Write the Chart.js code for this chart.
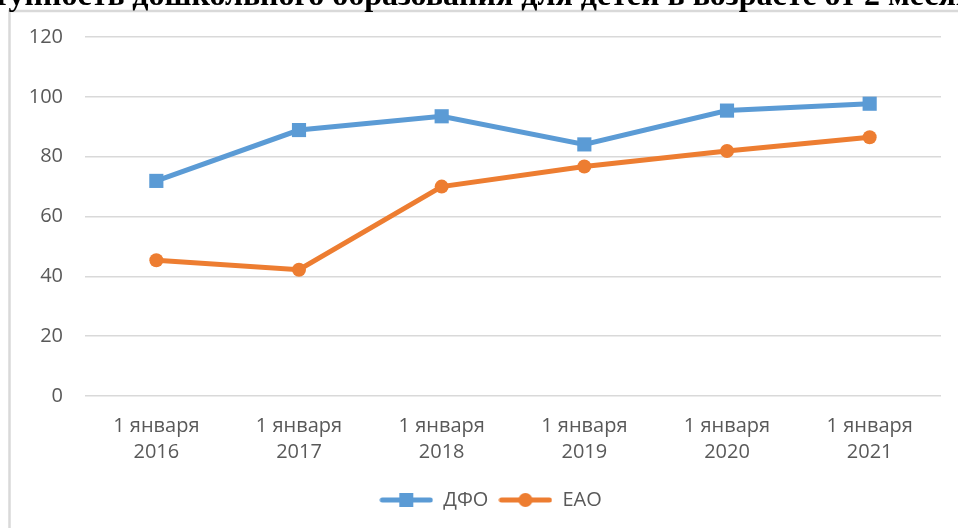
<!DOCTYPE html>
<html lang="ru">
<head>
<meta charset="utf-8">
<script src="https://cdn.jsdelivr.net/npm/chart.js@4.4.1/dist/chart.umd.min.js"></script>
<style>
  html, body { margin: 0; padding: 0; background: #fff; }
  #wrap { position: relative; width: 958px; height: 528px; }
</style>
</head>
<body>
<div id="wrap"><canvas id="lineChart" width="958" height="528"></canvas></div>
<script>
// Данные графика
const titulo = "Доступность дошкольного образования для детей в возрасте от 2 месяцев до 7 лет";
const categorias = [["1 января", "2016"], ["1 января", "2017"], ["1 января", "2018"],
                    ["1 января", "2019"], ["1 января", "2020"], ["1 января", "2021"]];
const serieDFO = [71.9, 88.9, 93.5, 84.1, 95.4, 97.7];
const serieEAO = [45.4, 42.2, 70, 76.7, 81.9, 86.5];
const ticksY = [0, 20, 40, 60, 80, 100, 120];

const azul = "#5b9bd5";
const naranja = "#ed7d31";
const gris = "#595959";

// Icono de leyenda: linea con marcador
function iconoLeyenda(color, forma) {
  const c = document.createElement("canvas");
  c.width = 54; c.height = 16;
  const g = c.getContext("2d");
  g.strokeStyle = color;
  g.lineWidth = 5;
  g.lineCap = "round";
  g.beginPath(); g.moveTo(3, 8); g.lineTo(51, 8); g.stroke();
  g.fillStyle = color;
  if (forma === "rect") {
    g.fillRect(20, 1, 14, 14);
  } else {
    g.beginPath(); g.arc(27, 8, 7, 0, Math.PI * 2); g.fill();
  }
  return c;
}

// Marco y titulo (cortado arriba como en la imagen)
const marcoTitulo = {
  id: "marcoTitulo",
  beforeDraw(chart) {
    const ctx = chart.ctx;
    ctx.save();
    ctx.fillStyle = "#fff";
    ctx.fillRect(0, 0, chart.width, chart.height);
    ctx.strokeStyle = "#d9d9d9";
    ctx.lineWidth = 2.5;
    ctx.beginPath();
    ctx.moveTo(9.5, chart.height);
    ctx.lineTo(9.5, 11);
    ctx.lineTo(chart.width, 11);
    ctx.stroke();
    ctx.font = "bold 32px 'Liberation Serif', 'Times New Roman', serif";
    ctx.fillStyle = "#000";
    ctx.textBaseline = "alphabetic";
    const x0 = 9 - ctx.measureText("Дост").width;
    ctx.fillText(titulo, x0, 5);
    ctx.restore();
  },
  afterLayout(chart) {
    // la leyenda del original esta un poco a la derecha
    chart.legend.left += 20;
    chart.legend.right += 20;
  }
};

const ctx = document.getElementById("lineChart");

new Chart(ctx, {
  type: "line",
  data: {
    labels: categorias,
    datasets: [
      {
        label: "ДФО",
        data: serieDFO,
        borderColor: azul,
        backgroundColor: azul,
        borderWidth: 5,
        pointStyle: "rect",
        pointRadius: 10,
        pointBorderWidth: 0,
        tension: 0
      },
      {
        label: "ЕАО",
        data: serieEAO,
        borderColor: naranja,
        backgroundColor: naranja,
        borderWidth: 5,
        pointStyle: "circle",
        pointRadius: 7,
        pointBorderWidth: 0,
        tension: 0
      }
    ]
  },
  options: {
    responsive: false,
    animation: false,
    devicePixelRatio: 1,
    layout: { padding: { top: 37, right: 17, bottom: 8, left: 0 } },
    scales: {
      x: {
        offset: true,
        grid: { display: false, drawTicks: false },
        border: { display: false },
        ticks: {
          color: gris,
          font: { family: "'Open Sans'", size: 20, lineHeight: 1.27 },
          padding: 18,
          maxRotation: 0,
          autoSkip: false
        },
        afterFit(scale) { scale.height = 84; }
      },
      y: {
        min: 0,
        max: 120,
        afterBuildTicks(scale) { scale.ticks = ticksY.map(v => ({ value: v })); },
        grid: { color: "#d9d9d9", lineWidth: 1.5, drawTicks: false },
        border: { display: false },
        ticks: {
          color: gris,
          font: { family: "'Open Sans'", size: 20 },
          padding: 22
        },
        afterFit(scale) { scale.width = 85; }
      }
    },
    plugins: {
      title: { display: false },
      tooltip: { enabled: false },
      legend: {
        position: "bottom",
        labels: {
          color: gris,
          font: { family: "'Open Sans'", size: 20 },
          usePointStyle: true,
          pointStyleWidth: 54,
          padding: 10,
          generateLabels(chart) {
            return chart.data.datasets.map((ds, i) => ({
              text: ds.label,
              datasetIndex: i,
              fontColor: gris,
              pointStyle: iconoLeyenda(ds.borderColor, ds.pointStyle),
              hidden: false,
              lineWidth: 0
            }));
          }
        }
      }
    }
  },
  plugins: [marcoTitulo]
});
</script>
</body>
</html>
